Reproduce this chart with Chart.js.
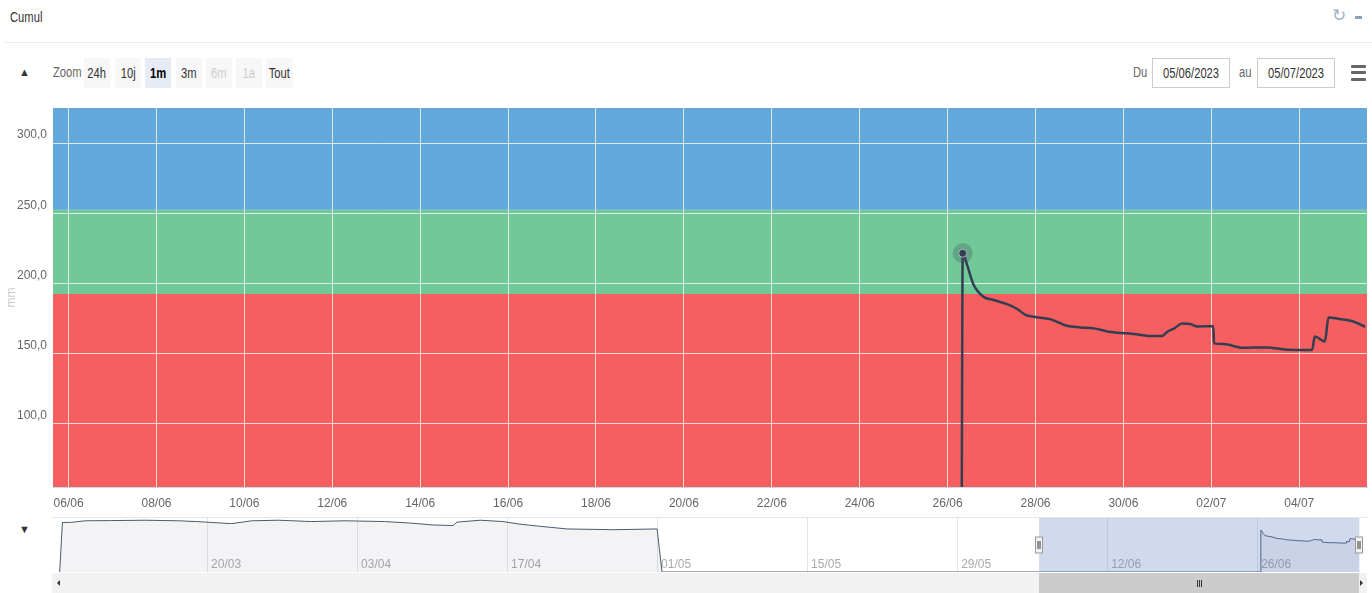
<!DOCTYPE html>
<html lang="fr">
<head>
<meta charset="utf-8">
<title>Cumul</title>
<script src="https://cdn.jsdelivr.net/npm/chart.js@4.4.0/dist/chart.umd.min.js"></script>
<style>
    body { margin: 0; background: #fff; overflow: hidden; }
    #wrap { position: relative; width: 1372px; height: 593px; font-family: "Liberation Sans", Arial, sans-serif; color: #333; }
    .abs { position: absolute; }
    /* texte condense */
    .cn { display: inline-block; transform: scaleX(0.8); transform-origin: center; white-space: nowrap; }
    .cl { display: inline-block; transform: scaleX(0.8); transform-origin: left; white-space: nowrap; }
    #title { left: 10px; top: 9px; font-size: 14px; }
    #sep { left: 5px; top: 42px; width: 1367px; height: 1px; background: #eeeeee; }
    #refresh { left: 1332px; top: 5px; font-size: 17px; color: #a3b1c4; }
    #minus { left: 1355px; top: 16px; width: 7px; height: 3px; background: #8da0b8; }
    .tri { font-size: 11px; color: #333; }
    #zoomLbl { left: 53px; top: 64px; font-size: 14px; color: #666; }
    .btn { top: 58px; width: 26px; height: 30px; line-height: 30px; text-align: center; background: #f7f7f7; font-size: 14px; color: #333; }
    .btn.on { background: #e6ebf5; font-weight: bold; color: #000; }
    .btn.off { color: #cccccc; }
    .lbl { top: 64px; font-size: 14px; color: #666; }
    .date { top: 58px; width: 76px; height: 28px; line-height: 28px; border: 1px solid #cccccc; text-align: center; font-size: 14px; color: #333; }
    .bar { left: 1351px; width: 15px; height: 3px; border-radius: 1px; background: #666; }
    #mainCanvas { left: 0; top: 100px; }
    #navCanvas { left: 0; top: 515px; }
</style>
</head>
<body>
<div id="wrap">
    <div id="title" class="abs"><span class="cl">Cumul</span></div>
    <div id="sep" class="abs"></div>
    <div id="refresh" class="abs">&#x21bb;</div>
    <div id="minus" class="abs"></div>

    <div class="abs tri" style="left:19px;top:66px;">&#9650;</div>
    <div id="zoomLbl" class="abs"><span class="cl">Zoom</span></div>
    <div class="abs btn" style="left:84px;"><span class="cn">24h</span></div>
    <div class="abs btn" style="left:115px;"><span class="cn">10j</span></div>
    <div class="abs btn on" style="left:145px;"><span class="cn">1m</span></div>
    <div class="abs btn" style="left:176px;"><span class="cn">3m</span></div>
    <div class="abs btn off" style="left:206px;"><span class="cn">6m</span></div>
    <div class="abs btn off" style="left:236px;"><span class="cn">1a</span></div>
    <div class="abs btn" style="left:266px;width:27px;"><span class="cn">Tout</span></div>

    <div class="abs lbl" style="left:1133px;"><span class="cl">Du</span></div>
    <div class="abs date" style="left:1152px;"><span class="cn">05/06/2023</span></div>
    <div class="abs lbl" style="left:1239px;"><span class="cl">au</span></div>
    <div class="abs date" style="left:1257px;"><span class="cn">05/07/2023</span></div>
    <div class="abs bar" style="top:65px;"></div>
    <div class="abs bar" style="top:71px;"></div>
    <div class="abs bar" style="top:78px;"></div>

    <canvas id="mainCanvas" class="abs" width="1372" height="415"></canvas>
    <div class="abs tri" style="left:19px;top:523px;">&#9660;</div>
    <canvas id="navCanvas" class="abs" width="1372" height="78"></canvas>
</div>

<script>
/* ============================ Data  ============================ */
const times = [
    "2023-03-06T06:00", "2023-03-06T12:00", "2023-03-07T09:00", "2023-03-08T15:00",
    "2023-03-11T00:00", "2023-03-14T05:00", "2023-03-17T08:00", "2023-03-19T00:00",
    "2023-03-22T07:00", "2023-03-24T04:00", "2023-03-26T16:00", "2023-03-29T18:00",
    "2023-04-01T21:00", "2023-04-05T14:00", "2023-04-08T05:00", "2023-04-10T02:00",
    "2023-04-11T23:00", "2023-04-12T08:00", "2023-04-14T12:00", "2023-04-16T15:00",
    "2023-04-18T05:00", "2023-04-20T02:00", "2023-04-22T14:00", "2023-04-26T22:00",
    "2023-05-01T00:00", "2023-05-01T11:00", "2023-06-26T07:30", "2023-06-26T08:15",
    "2023-06-26T10:30", "2023-06-26T14:00", "2023-06-26T19:30", "2023-06-27T01:00",
    "2023-06-27T08:30", "2023-06-27T14:00", "2023-06-27T18:30", "2023-06-27T23:00",
    "2023-06-28T08:00", "2023-06-28T17:00", "2023-06-29T00:30", "2023-06-29T08:00",
    "2023-06-29T17:00", "2023-06-30T05:30", "2023-06-30T16:30", "2023-06-30T21:00",
    "2023-07-01T00:00", "2023-07-01T04:00", "2023-07-01T08:00", "2023-07-01T12:30",
    "2023-07-01T16:00", "2023-07-02T01:00", "2023-07-02T01:30", "2023-07-02T06:30",
    "2023-07-02T17:30", "2023-07-03T06:30", "2023-07-03T17:00", "2023-07-04T07:00",
    "2023-07-04T08:30", "2023-07-04T14:00", "2023-07-04T16:00", "2023-07-04T18:30",
    "2023-07-05T05:30", "2023-07-05T12:00",
];
const cumul = [
    0, 261, 262, 270,
    271, 273, 270, 266,
    255, 270, 273, 266,
    270, 266, 257, 248,
    245, 263, 273, 266,
    252, 241, 227, 223,
    227, 0, 0, 221.5,
    213.8, 199.6, 190.5, 188.2,
    185.3, 181.8, 177.7, 176.3,
    174.6, 169.9, 168.7, 168.0,
    165.4, 164.0, 162.5, 162.5,
    165.6, 168.2, 171.5, 171.1,
    169.4, 169.6, 157.3, 156.8,
    154.2, 154.4, 152.8, 152.6,
    162.2, 158.7, 175.8, 175.4,
    172.9, 169.1,
];
const hoverTime = "2023-06-26T08:15";

const xTickLabels = ["06/06", "08/06", "10/06", "12/06", "14/06", "16/06", "18/06", "20/06",
    "22/06", "24/06", "26/06", "28/06", "30/06", "02/07", "04/07"];
const navTickLabels = ["20/03", "03/04", "17/04", "01/05", "15/05", "29/05", "12/06", "26/06"];
const yTicks = [100, 150, 200, 250, 300];

// seuils des zones (mm)
const bandEdges = [0, 192.5, 252.5, 400];

// fenetre affichee / etendue du navigateur
const viewRange = ["2023-06-05T15:30", "2023-07-05T13:00"];
const navRange = ["2023-03-05T15:00", "2023-07-06T06:00"];

/* ============================ Helpers  ============================ */
const ms = (s) => Date.parse(s + ":00Z");
const dayMs = (lbl) => {
    const [d, m] = lbl.split("/").map(Number);
    return Date.UTC(2023, m - 1, d);
};
const points = times.map((t, i) => ({ x: ms(t), y: cumul[i] }));
const hoverIndex = times.indexOf(hoverTime);

const FONT = '"Liberation Sans", Arial, sans-serif';
const bandColors = ["#f65f5f", "#71c998", "#62a8db"];
const lineColor = "#323e52";

/* ============================ Main chart  ============================ */
const bandsPlugin = {
    id: "bands",
    beforeDraw(chart) {
        const { ctx, chartArea: a, scales: { y } } = chart;
        ctx.save();
        for (let i = 0; i < bandColors.length; i++) {
            const top = y.getPixelForValue(Math.min(bandEdges[i + 1], y.max));
            const bot = y.getPixelForValue(Math.max(bandEdges[i], y.min));
            ctx.fillStyle = bandColors[i];
            ctx.fillRect(a.left, top, a.right - a.left, bot - top);
        }
        ctx.restore();
    },
};

const haloPlugin = {
    id: "halo",
    afterDatasetsDraw(chart) {
        const pt = chart.getDatasetMeta(0).data[hoverIndex];
        if (!pt) return;
        const ctx = chart.ctx;
        ctx.save();
        ctx.fillStyle = "rgba(50, 62, 82, 0.25)";
        ctx.beginPath();
        ctx.arc(pt.x, pt.y, 10, 0, Math.PI * 2);
        ctx.fill();
        ctx.restore();
    },
};

const mainChart = new Chart(document.getElementById("mainCanvas"), {
    type: "line",
    data: {
        datasets: [
            {
                label: "Cumul",
                data: points,
                borderColor: lineColor,
                borderWidth: 2.5,
                cubicInterpolationMode: "monotone",
                pointRadius: (c) => (c.dataIndex === hoverIndex ? 4 : 0),
                pointBackgroundColor: lineColor,
                pointBorderColor: "#d8d8d8",
                pointBorderWidth: 1,
            },
        ],
    },
    options: {
        responsive: false,
        animation: false,
        events: [],
        layout: { padding: { top: 8, right: 5, left: 0, bottom: 0 } },
        scales: {
            x: {
                type: "linear",
                min: ms(viewRange[0]),
                max: ms(viewRange[1]),
                afterBuildTicks: (scale) => {
                    scale.ticks = xTickLabels.map((l) => ({ value: dayMs(l) }));
                },
                afterFit: (scale) => {
                    scale.height = 28;
                    scale.paddingLeft = 0;
                    scale.paddingRight = 0;
                },
                ticks: {
                    autoSkip: false,
                    maxRotation: 0,
                    padding: 9,
                    color: "#666",
                    font: { family: FONT, size: 12 },
                    callback: (v, i) => xTickLabels[i],
                },
                grid: { color: "rgba(255,255,255,0.75)", drawTicks: false },
                border: { display: true, color: "#ccd6eb" },
            },
            y: {
                min: 55,
                max: 325,
                afterBuildTicks: (scale) => {
                    scale.ticks = yTicks.map((v) => ({ value: v }));
                },
                afterFit: (scale) => {
                    scale.width = 53;
                    scale.paddingTop = 0;
                    scale.paddingBottom = 0;
                },
                ticks: {
                    padding: 6,
                    labelOffset: -8,
                    color: "#666",
                    font: { family: FONT, size: 12 },
                    callback: (v) => v.toFixed(1).replace(".", ","),
                },
                grid: { color: "rgba(255,255,255,0.75)", drawTicks: false },
                border: { display: false },
                title: {
                    display: true,
                    text: "mm",
                    color: "#c8c8c8",
                    font: { family: FONT, size: 12 },
                    padding: { top: 4, bottom: 0 },
                },
            },
        },
        plugins: {
            legend: { display: false },
            tooltip: { enabled: false },
        },
    },
    plugins: [bandsPlugin, haloPlugin],
});

/* ============================ Navigator  ============================ */
const navPlugin = {
    id: "navigator",
    afterDatasetsDraw(chart) {
        const { ctx, chartArea: a, scales: { x } } = chart;
        const x0 = x.getPixelForValue(ms(viewRange[0]));
        const x1 = x.getPixelForValue(ms(viewRange[1]));
        ctx.save();
        ctx.fillStyle = "rgba(102, 133, 194, 0.3)";
        ctx.fillRect(x0, a.top, x1 - x0, a.bottom - a.top);
        ctx.restore();
    },
    afterDraw(chart) {
        const { ctx, chartArea: a, scales: { x } } = chart;
        const x0 = Math.round(x.getPixelForValue(ms(viewRange[0])));
        const x1 = Math.round(x.getPixelForValue(ms(viewRange[1])));
        ctx.save();

        // ligne du haut
        ctx.strokeStyle = "#e6e6e6";
        ctx.lineWidth = 1;
        ctx.beginPath();
        ctx.moveTo(a.left - 1, a.top + 0.5);
        ctx.lineTo(a.right, a.top + 0.5);
        ctx.stroke();

        // scrollbar
        const sy = a.bottom + 1;
        const sh = chart.height - sy;
        ctx.fillStyle = "#f2f2f2";
        ctx.fillRect(a.left - 1, sy, a.right - a.left + 1, sh);
        ctx.fillStyle = "#cccccc";
        ctx.fillRect(x0, sy, x1 - x0, sh);
        ctx.strokeStyle = "#333";
        const gx = Math.round((x0 + x1) / 2);
        for (let k = -2; k <= 2; k += 2) {
            ctx.beginPath();
            ctx.moveTo(gx + k + 0.5, sy + 7);
            ctx.lineTo(gx + k + 0.5, sy + 14);
            ctx.stroke();
        }
        // fleches
        ctx.fillStyle = "#333";
        const my = sy + sh / 2;
        ctx.beginPath();
        ctx.moveTo(a.left + 4, my);
        ctx.lineTo(a.left + 7, my - 3);
        ctx.lineTo(a.left + 7, my + 3);
        ctx.fill();
        ctx.beginPath();
        ctx.moveTo(a.right - 4, my);
        ctx.lineTo(a.right - 7, my - 3);
        ctx.lineTo(a.right - 7, my + 3);
        ctx.fill();

        // poignees
        const hy = Math.round((a.top + a.bottom) / 2);
        [x0, x1].forEach((hx) => {
            ctx.fillStyle = "#f2f2f2";
            ctx.strokeStyle = "#999";
            ctx.fillRect(hx - 3.5, hy - 8, 7, 16);
            ctx.strokeRect(hx - 3.5, hy - 8, 7, 16);
            ctx.strokeStyle = "#333";
            ctx.beginPath();
            ctx.moveTo(hx - 1, hy - 4);
            ctx.lineTo(hx - 1, hy + 4);
            ctx.moveTo(hx + 1, hy - 4);
            ctx.lineTo(hx + 1, hy + 4);
            ctx.stroke();
        });
        ctx.restore();
    },
};

const navChart = new Chart(document.getElementById("navCanvas"), {
    type: "line",
    data: {
        datasets: [
            {
                label: "Cumul",
                data: points,
                borderColor: "#4a5a72",
                borderWidth: 1,
                pointRadius: 0,
                fill: "origin",
                backgroundColor: "rgba(80, 90, 110, 0.07)",
            },
        ],
    },
    options: {
        responsive: false,
        animation: false,
        events: [],
        layout: { padding: { top: 2, right: 5, left: 53, bottom: 21 } },
        scales: {
            x: {
                type: "linear",
                min: ms(navRange[0]),
                max: ms(navRange[1]),
                afterBuildTicks: (scale) => {
                    scale.ticks = navTickLabels.map((l) => ({ value: dayMs(l) }));
                },
                afterFit: (scale) => {
                    scale.height = 0;
                },
                ticks: {
                    autoSkip: false,
                    maxRotation: 0,
                    mirror: true,
                    align: "start",
                    labelOffset: 4,
                    padding: 0,
                    color: "#aaa",
                    font: { family: FONT, size: 12 },
                    callback: (v, i) => navTickLabels[i],
                },
                grid: { color: "#e6e6e6", drawTicks: false },
                border: { display: false },
            },
            y: {
                display: false,
                min: 0,
                max: 290,
            },
        },
        plugins: {
            legend: { display: false },
            tooltip: { enabled: false },
        },
    },
    plugins: [navPlugin],
});
</script>
</body>
</html>
